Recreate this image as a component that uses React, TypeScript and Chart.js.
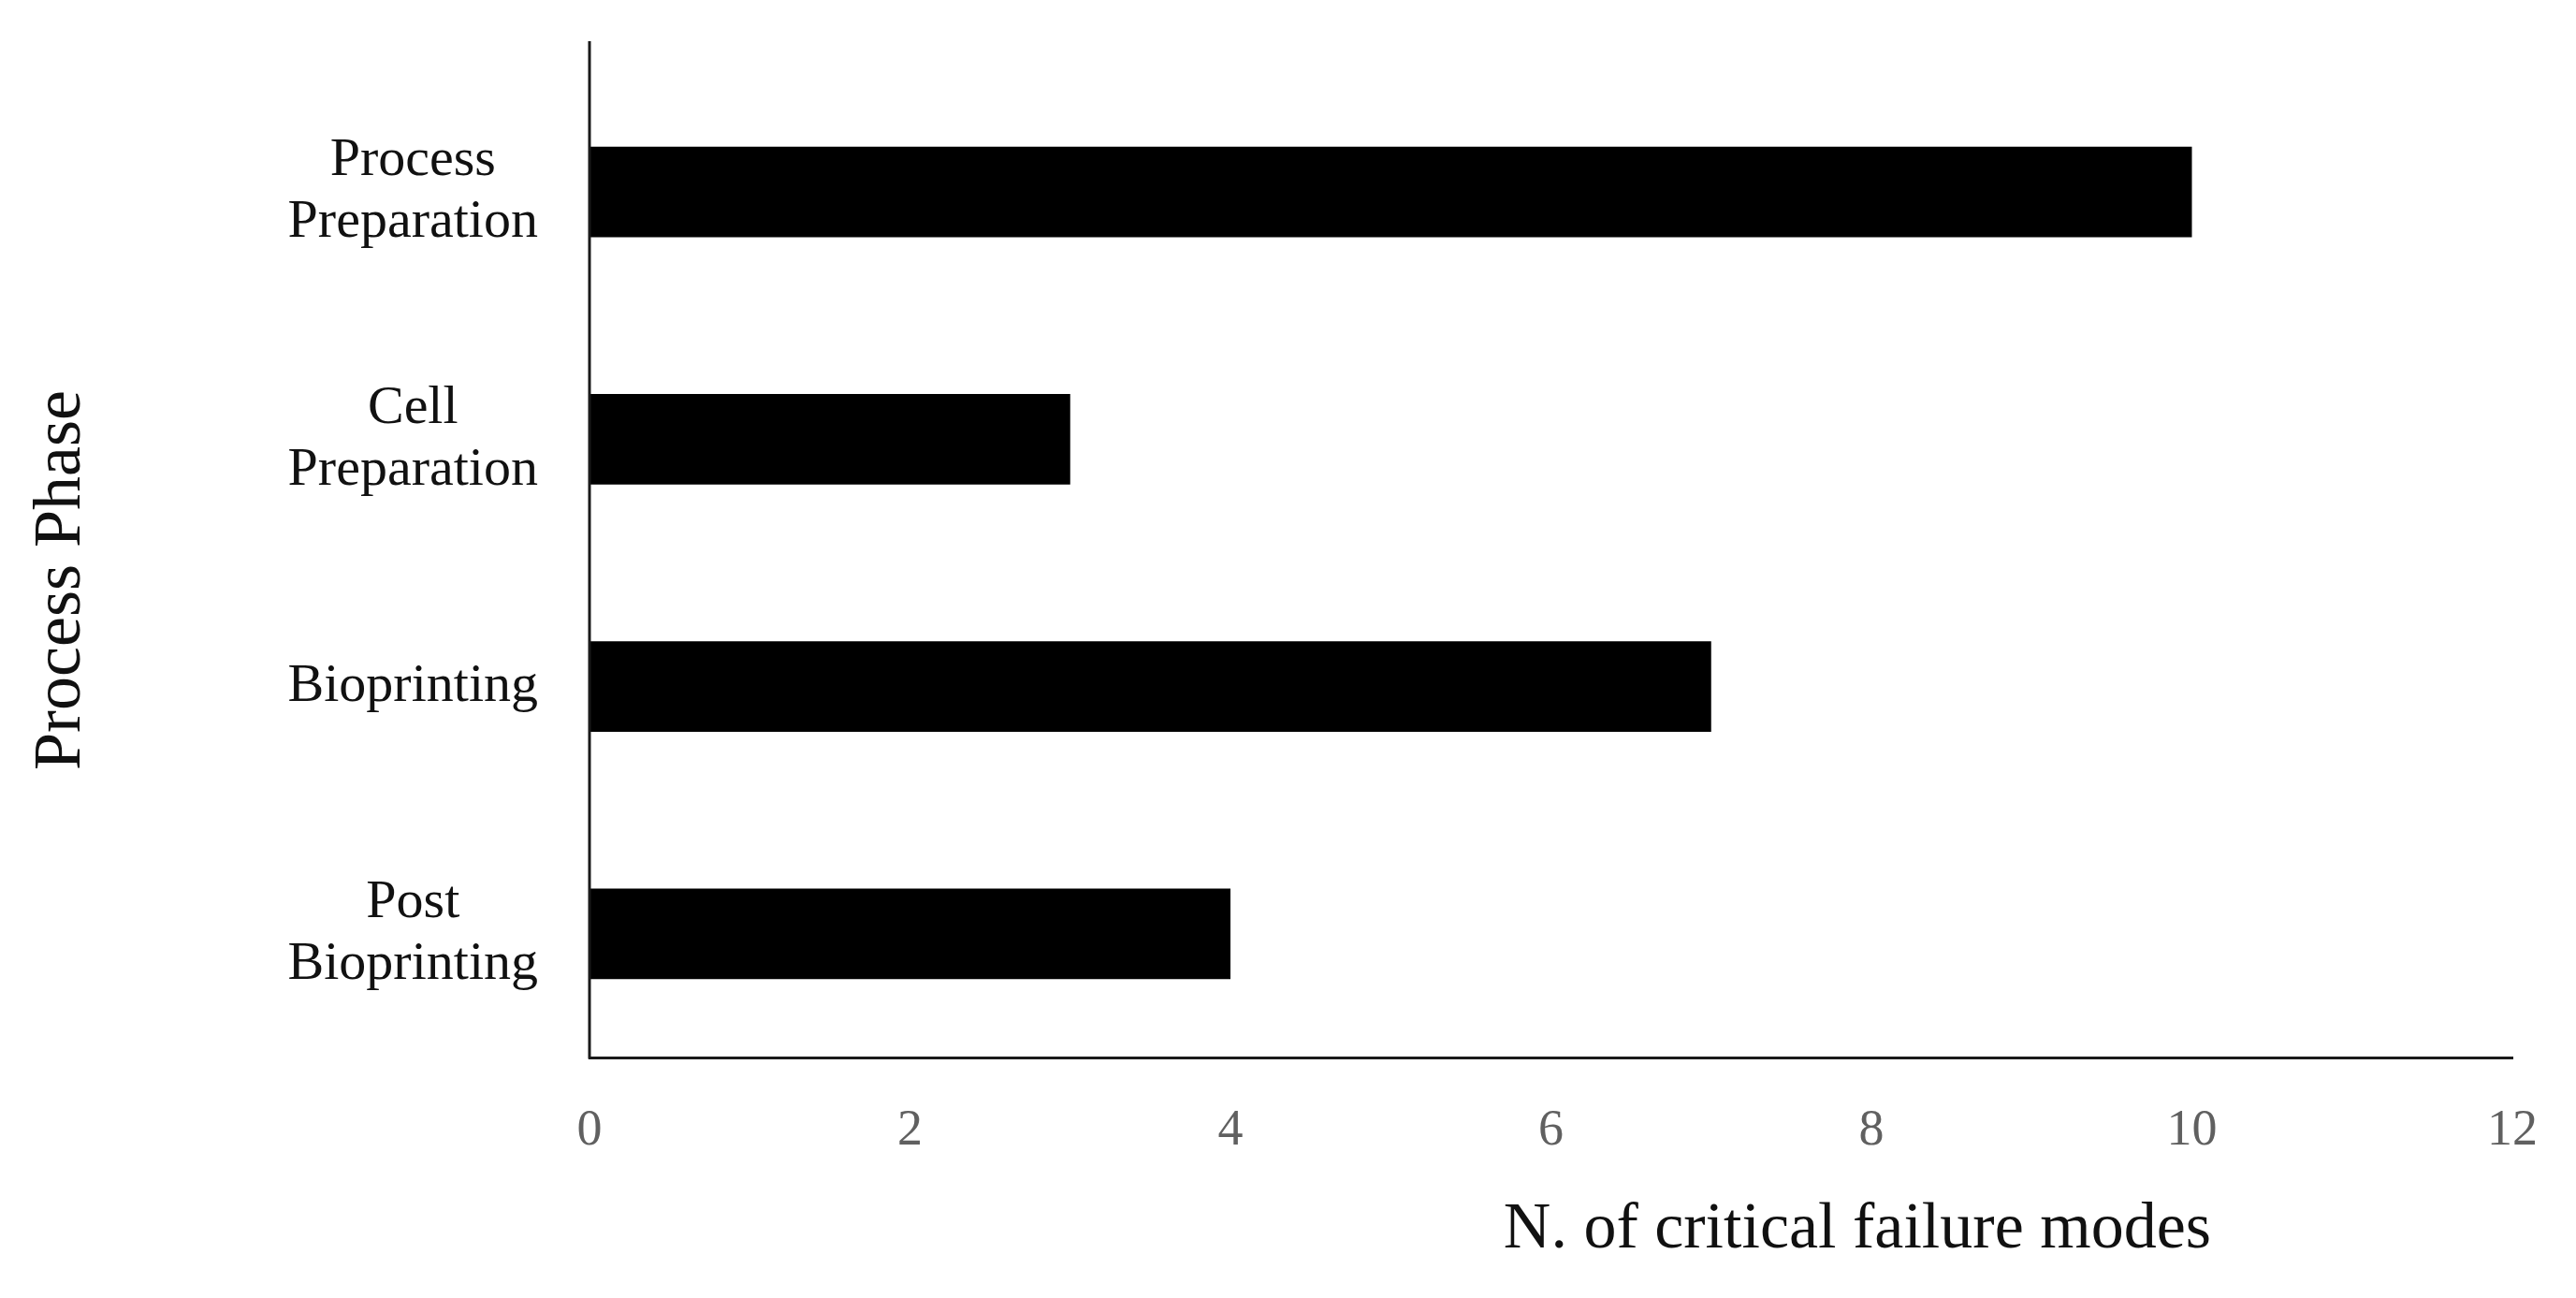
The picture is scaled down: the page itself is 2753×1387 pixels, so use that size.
import React, { useEffect, useRef } from "react";
import { Chart, registerables } from "chart.js";

Chart.register(...registerables);

const categories: (string | string[])[] = [
  ["Process", "Preparation"],
  ["Cell", "Preparation"],
  "Bioprinting",
  ["Post", "Bioprinting"],
];
const failureModes: number[] = [10, 3, 7, 4];
const xMin = 0;
const xMax = 12;
const xStep = 2;
const xTitle = "N. of critical failure modes";
const yTitle = "Process Phase";

const W = 2753;
const H = 1387;
const FONT = "'Liberation Serif', 'Times New Roman', serif";

const titlesPlugin = {
  id: "customTitles",
  afterDraw(chart: any) {
    const { ctx, chartArea } = chart;
    ctx.save();
    // y-axis line extending above plot area
    ctx.strokeStyle = "#1a1a1a";
    ctx.lineWidth = 3;
    ctx.beginPath();
    ctx.moveTo(chartArea.left, chartArea.top - 29);
    ctx.lineTo(chartArea.left, chartArea.bottom + 1.5);
    ctx.stroke();

    ctx.fillStyle = "#111";
    ctx.font = `70px ${FONT}`;
    ctx.textAlign = "center";
    ctx.textBaseline = "middle";
    ctx.fillText(xTitle, chart.width * 0.721, chart.height * 0.948);

    ctx.translate(chart.width * 0.024, chart.height * 0.447);
    ctx.rotate(-Math.PI / 2);
    ctx.font = `72px ${FONT}`;
    ctx.fillText(yTitle, 0, 0);
    ctx.restore();
  },
};

export default function App() {
  const ref = useRef<HTMLCanvasElement>(null);

  useEffect(() => {
    if (!ref.current) return;
    const chart = new Chart(ref.current, {
      type: "bar",
      data: {
        labels: categories,
        datasets: [
          {
            data: failureModes,
            backgroundColor: "#000",
            borderWidth: 0,
            barPercentage: 0.367,
            categoryPercentage: 1,
          },
        ],
      },
      options: {
        indexAxis: "y",
        animation: false,
        responsive: false,
        layout: { padding: { left: 0, right: 68, top: 73, bottom: 0 } },
        plugins: {
          legend: { display: false },
          tooltip: { enabled: false },
          title: { display: false },
        },
        scales: {
          x: {
            min: xMin,
            max: xMax,
            ticks: {
              stepSize: xStep,
              color: "#606060",
              font: { family: FONT, size: 54 },
              padding: 46,
            },
            grid: { display: false, drawTicks: false },
            border: { display: true, color: "#1a1a1a", width: 3 },
            afterFit(scale: any) {
              scale.height = 257;
              scale.paddingRight = 0;
            },
          },
          y: {
            ticks: {
              color: "#111",
              font: { family: FONT, size: 58, lineHeight: 1.14 },
              crossAlign: "center",
              padding: 55,
            },
            grid: { display: false, drawTicks: false },
            border: { display: false },
            afterFit(scale: any) {
              scale.width = 630;
              scale.paddingTop = 0;
              scale.paddingBottom = 0;
            },
          },
        },
      },
      plugins: [titlesPlugin],
    });
    return () => chart.destroy();
  }, []);

  return (
    <div style={{ position: "fixed", left: 0, top: 0, width: W, height: H, background: "#fff" }}>
      <canvas ref={ref} width={W} height={H} />
    </div>
  );
}
